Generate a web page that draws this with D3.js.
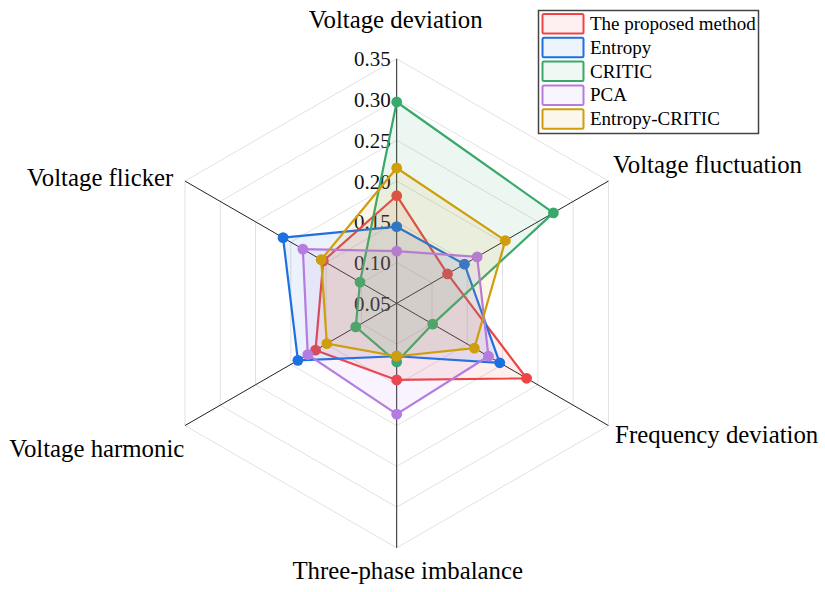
<!DOCTYPE html>
<html>
<head>
<meta charset="utf-8">
<script src="https://cdn.jsdelivr.net/npm/d3@7/dist/d3.min.js"></script>
<style>
  html, body { margin: 0; padding: 0; background: #fff; }
  svg { display: block; }
  text { font-family: "Liberation Serif", "Times New Roman", serif; }
</style>
</head>
<body>
<svg id="chart" width="825" height="592"></svg>
<script>
// ---------------- data ----------------
const categories = ["Voltage deviation", "Voltage fluctuation", "Frequency deviation",
                    "Three-phase imbalance", "Voltage harmonic", "Voltage flicker"];
const seriesNames = ["The proposed method", "Entropy", "CRITIC", "PCA", "Entropy-CRITIC"];
const proposed      = [0.182, 0.122, 0.234, 0.144, 0.165, 0.154];
const entropy       = [0.144, 0.146, 0.196, 0.115, 0.190, 0.211];
const critic        = [0.297, 0.272, 0.101, 0.122, 0.108, 0.102];
const pca           = [0.114, 0.164, 0.180, 0.186, 0.176, 0.183];
const entropyCritic = [0.216, 0.204, 0.160, 0.115, 0.149, 0.157];
const radialTicks = [0.05, 0.10, 0.15, 0.20, 0.25, 0.30, 0.35];
const radialTickLabels = ["0.05", "0.10", "0.15", "0.20", "0.25", "0.30", "0.35"];

// ---------------- style ----------------
const colors = ["#EF4444", "#1E6FE0", "#38A96B", "#B47BE0", "#CF9E0C"];
const fillOpacity = 0.09;
const cx = 396.7, cy = 303.3, R = 244.5;
// per-label offsets (dx, dy) and anchors relative to the point at R+10
const labelStyle = [
  { dx: -1, dy: -21, anchor: "middle" },
  { dx: -4, dy: -3, anchor: "start" },
  { dx: -2, dy: 12.4, anchor: "start" },
  { dx: 11, dy: 21, anchor: "middle" },
  { dx: 8, dy: 26, anchor: "end" },
  { dx: -3, dy: 10, anchor: "end" }
];

const allSeries = [proposed, entropy, critic, pca, entropyCritic];

const svg = d3.select("#chart");
svg.append("rect").attr("width", 825).attr("height", 592).attr("fill", "#fff");

const r = d3.scaleLinear().domain([0.05, 0.35]).range([0, R]);
const ang = d3.scaleBand().domain(categories).range([0, 2 * Math.PI]);

const g = svg.append("g").attr("transform", `translate(${cx},${cy})`);

const ringLine = d3.lineRadial()
  .angle(c => ang(c))
  .curve(d3.curveLinearClosed);

// grid rings
g.append("g").selectAll("path")
  .data(radialTicks.filter(t => t > 0.05))
  .join("path")
  .attr("d", t => ringLine.radius(() => r(t))(categories))
  .attr("fill", "none")
  .attr("stroke", "#e2e2e2")
  .attr("stroke-width", 1);

// spokes
g.append("g").selectAll("line")
  .data(categories)
  .join("line")
  .attr("x1", 0).attr("y1", 0)
  .attr("x2", c => R * Math.sin(ang(c)))
  .attr("y2", c => -R * Math.cos(ang(c)))
  .attr("stroke", "#222")
  .attr("stroke-width", 1);

// radial tick labels
g.append("g").selectAll("text")
  .data(radialTicks)
  .join("text")
  .attr("x", -6)
  .attr("y", t => -r(t))
  .attr("dy", "0.36em")
  .attr("text-anchor", "end")
  .attr("font-size", 21)
  .attr("fill", "#111")
  .text((t, i) => radialTickLabels[i]);

// angular labels
g.append("g").selectAll("text")
  .data(categories)
  .join("text")
  .attr("x", (c, i) => (R + 10) * Math.sin(ang(c)) + labelStyle[i].dx)
  .attr("y", (c, i) => -(R + 10) * Math.cos(ang(c)) + labelStyle[i].dy)
  .attr("text-anchor", (c, i) => labelStyle[i].anchor)
  .attr("font-size", 24.8)
  .attr("fill", "#000")
  .text(c => c);

// traces
const traceLine = d3.lineRadial()
  .angle((d, i) => ang(categories[i]))
  .radius(d => r(d))
  .curve(d3.curveLinearClosed);

allSeries.forEach((vals, k) => {
  const tg = g.append("g");
  tg.append("path")
    .attr("d", traceLine(vals))
    .attr("fill", colors[k])
    .attr("fill-opacity", fillOpacity)
    .attr("stroke", colors[k])
    .attr("stroke-width", 2.2)
    .attr("stroke-linejoin", "round");
  tg.selectAll("circle")
    .data(vals)
    .join("circle")
    .attr("cx", (d, i) => r(d) * Math.sin(ang(categories[i])))
    .attr("cy", (d, i) => -r(d) * Math.cos(ang(categories[i])))
    .attr("r", 5.4)
    .attr("fill", colors[k]);
});

// legend
const lg = svg.append("g").attr("transform", "translate(538.5,10.5)");
lg.append("rect")
  .attr("width", 220).attr("height", 123)
  .attr("fill", "#fff")
  .attr("stroke", "#444")
  .attr("stroke-width", 1.5);
const rows = lg.selectAll("g.row")
  .data(seriesNames)
  .join("g")
  .attr("class", "row")
  .attr("transform", (d, i) => `translate(0,${i * 23.8})`);
rows.append("rect")
  .attr("x", 4).attr("y", 3.5)
  .attr("width", 41).attr("height", 19.5)
  .attr("rx", 1.5)
  .attr("fill", (d, i) => colors[i])
  .attr("fill-opacity", 0.08)
  .attr("stroke", (d, i) => colors[i])
  .attr("stroke-width", 2);
rows.append("text")
  .attr("x", 51.5)
  .attr("y", 19.5)
  .attr("font-size", 19)
  .attr("fill", "#000")
  .text(d => d);
</script>
</body>
</html>
